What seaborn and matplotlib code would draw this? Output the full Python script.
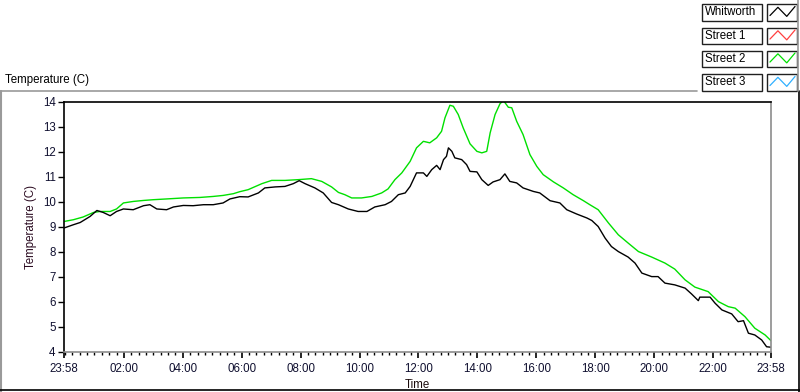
import matplotlib
matplotlib.use("Agg")
import matplotlib.pyplot as plt
import seaborn as sns
import pandas as pd
from matplotlib.lines import Line2D
from matplotlib.patches import Rectangle
from matplotlib.ticker import FixedLocator

# ---------------- data (minutes after 23:58 start, temperature in C) ----------------
whitworth_min = [0, 19, 33, 53, 67, 80, 94, 107, 121, 141, 162, 175, 189, 209, 223, 243, 263, 284,
                 304, 324, 338, 358, 375, 396, 409, 430, 450, 467, 479, 491, 511, 528, 545, 559,
                 579, 599, 617, 633, 654, 667, 681, 695, 705, 718, 732, 739, 749, 759, 766, 773,
                 779, 783, 790, 796, 810, 820, 827, 841, 851, 864, 874, 888, 898, 908, 922, 935,
                 956, 969, 990, 1010, 1024, 1044, 1065, 1075, 1088, 1102, 1115, 1129, 1149, 1163,
                 1177, 1197, 1210, 1224, 1244, 1265, 1278, 1292, 1295, 1316, 1326, 1340, 1360,
                 1373, 1384, 1394, 1407, 1421, 1431, 1440]
whitworth_temp = [8.95, 9.08, 9.17, 9.41, 9.65, 9.57, 9.44, 9.61, 9.71, 9.68, 9.84, 9.88, 9.71,
                  9.68, 9.79, 9.85, 9.84, 9.88, 9.88, 9.95, 10.11, 10.20, 10.19, 10.35, 10.55,
                  10.59, 10.61, 10.72, 10.84, 10.72, 10.55, 10.35, 9.97, 9.88, 9.71, 9.61, 9.61,
                  9.79, 9.88, 10.01, 10.28, 10.35, 10.61, 11.15, 11.15, 11.01, 11.28, 11.45,
                  11.28, 11.68, 11.81, 12.15, 12.01, 11.75, 11.68, 11.48, 11.21, 11.19, 10.88,
                  10.65, 10.79, 10.88, 11.11, 10.81, 10.75, 10.55, 10.41, 10.35, 10.04, 9.95,
                  9.68, 9.51, 9.35, 9.25, 9.01, 8.55, 8.21, 8.01, 7.79, 7.55, 7.15, 7.01, 7.01,
                  6.75, 6.68, 6.55, 6.32, 6.05, 6.19, 6.19, 5.95, 5.68, 5.52, 5.21, 5.25, 4.75,
                  4.68, 4.48, 4.21, 4.19]

street2_min = [0, 19, 39, 60, 73, 94, 107, 121, 141, 162, 182, 209, 243, 277, 304, 324, 345, 358,
               375, 403, 423, 450, 477, 504, 525, 545, 559, 572, 586, 606, 627, 647, 660, 674,
               688, 705, 718, 732, 745, 759, 769, 776, 786, 793, 803, 813, 827, 841, 851, 861,
               868, 878, 888, 895, 905, 912, 922, 935, 949, 963, 976, 997, 1017, 1037, 1058,
               1071, 1088, 1109, 1129, 1149, 1170, 1197, 1224, 1244, 1265, 1285, 1312, 1333,
               1353, 1367, 1387, 1407, 1428, 1440]
street2_temp = [9.21, 9.28, 9.39, 9.57, 9.61, 9.61, 9.71, 9.95, 10.01, 10.05, 10.08, 10.11, 10.15,
                10.17, 10.21, 10.25, 10.32, 10.40, 10.48, 10.72, 10.85, 10.85, 10.88, 10.92,
                10.81, 10.59, 10.37, 10.28, 10.15, 10.15, 10.21, 10.35, 10.51, 10.88, 11.15,
                11.61, 12.15, 12.41, 12.35, 12.55, 12.81, 13.35, 13.85, 13.81, 13.48, 12.95,
                12.31, 12.01, 11.95, 12.01, 12.75, 13.48, 13.91, 14.04, 13.77, 13.75, 13.21,
                12.68, 11.88, 11.41, 11.08, 10.79, 10.55, 10.28, 10.04, 9.88, 9.68, 9.15, 8.68,
                8.35, 8.01, 7.79, 7.55, 7.31, 6.88, 6.59, 6.41, 6.01, 5.81, 5.75, 5.41, 4.95,
                4.68, 4.45]

x_tick_labels = ["23:58", "02:00", "04:00", "06:00", "08:00", "10:00", "12:00",
                 "14:00", "16:00", "18:00", "20:00", "22:00", "23:58"]
y_ticks = [4, 5, 6, 7, 8, 9, 10, 11, 12, 13, 14]
legend_names = ["Whitworth", "Street 1", "Street 2", "Street 3"]
legend_colors = ["#000000", "#ff4040", "#00e000", "#30b0ff"]

# ---------------- figure ----------------
sns.set_theme(style="white")
plt.rcParams["font.family"] = ["Liberation Sans", "DejaVu Sans"]
FS = 8.3

W, H = 800, 392
fig = plt.figure(figsize=(W / 100, H / 100), dpi=100)
fig.patch.set_facecolor("white")


def fx(x):
    return x / W


def fy(y):
    return 1 - y / H


ax_l, ax_r, ax_t, ax_b = 64, 771, 101.5, 352
ax = fig.add_axes([fx(ax_l), fy(ax_b), fx(ax_r) - fx(ax_l), fy(ax_t) - fy(ax_b)])
ax.set_facecolor("white")

df = pd.concat([
    pd.DataFrame({"minute": whitworth_min, "temp": whitworth_temp, "series": "Whitworth"}),
    pd.DataFrame({"minute": street2_min, "temp": street2_temp, "series": "Street 2"}),
])
sns.lineplot(data=df, x="minute", y="temp", hue="series",
             palette={"Whitworth": legend_colors[0], "Street 2": legend_colors[2]},
             hue_order=["Street 2", "Whitworth"],
             estimator=None, sort=False, linewidth=1.0, legend=False, ax=ax)

ax.set_xlim(0, 1440)
ax.set_ylim(4, 14)


def label_to_min(lbl, i):
    if i == 0:
        return 0
    if i == len(x_tick_labels) - 1:
        return 1440
    h, m = map(int, lbl.split(":"))
    return h * 60 + m + 2


xt = [label_to_min(l, i) for i, l in enumerate(x_tick_labels)]
ax.set_xticks(xt)
ax.set_xticklabels(x_tick_labels)
ax.xaxis.set_minor_locator(FixedLocator([2 + 15 * k for k in range(96) if 0 < 2 + 15 * k < 1440]))
ax.set_yticks(y_ticks)
ax.set_yticklabels([str(v) for v in y_ticks])

ax.tick_params(axis="x", which="major", direction="out", length=4, width=1.2, color="black",
               labelsize=FS, pad=4, labelcolor="#101030", bottom=True)
ax.tick_params(axis="x", which="minor", direction="out", length=2.5, width=1, color="black",
               bottom=True)
ax.tick_params(axis="y", which="major", direction="out", length=4, width=1, color="black",
               labelsize=FS, pad=2, labelcolor="#101030", left=True)

for s in ["left", "top"]:
    ax.spines[s].set_color("black")
    ax.spines[s].set_linewidth(1.2)
for s in ["right", "bottom"]:
    ax.spines[s].set_color("#8c8c8c")
    ax.spines[s].set_linewidth(1.2)

ax.set_xlabel("Time", fontsize=FS, color="#1a0a0a", labelpad=3)
ax.set_ylabel("Temperature (C)", fontsize=FS, color="#2a0a20", labelpad=4)

# chart caption
fig.text(fx(5), fy(80), "Temperature (C)", fontsize=FS, color="black", ha="left", va="center")

# outer frame
gray = "#9a9a9a"
fig.add_artist(Line2D([fx(0), fx(697)], [fy(91), fy(91)], color=gray, lw=1.2))
fig.add_artist(Line2D([fx(1), fx(1)], [fy(91), fy(392)], color=gray, lw=1.5))
fig.add_artist(Line2D([fx(0), fx(800)], [fy(390), fy(390)], color="black", lw=1.2))
fig.add_artist(Line2D([fx(799), fx(799)], [fy(91), fy(392)], color="black", lw=1.2))
fig.add_artist(Line2D([fx(798), fx(798)], [fy(0), fy(91)], color=gray, lw=1.2))

# legend
row_top = [4, 27.5, 50.5, 74]
bh = 16.5
zig = [(0.1, 0.3), (0.37, 0.8), (0.67, 0.25), (0.95, 0.85)]
for name, col, yt in zip(legend_names, legend_colors, row_top):
    fig.add_artist(Rectangle((fx(702), fy(yt + bh)), fx(762) - fx(702), bh / H,
                             facecolor="white", edgecolor="#202020", lw=1.0))
    fig.text(fx(705), fy(yt + bh / 2), name, fontsize=FS, color="black",
             ha="left", va="center")
    fig.add_artist(Rectangle((fx(767), fy(yt + bh)), fx(796.5) - fx(767), bh / H,
                             facecolor="white", edgecolor="#202020", lw=1.0))
    xs = [fx(767 + 29.5 * p[0]) for p in zig]
    ys = [fy(yt + bh - bh * p[1]) for p in zig]
    fig.add_artist(Line2D(xs, ys, color=col, lw=0.9))

fig.savefig("out.png", dpi=100, facecolor="white")
